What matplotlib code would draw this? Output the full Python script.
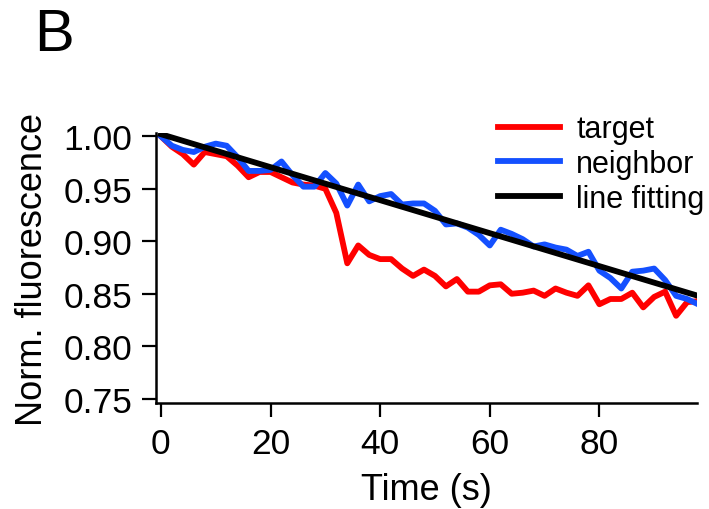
import matplotlib
matplotlib.use("Agg")
import matplotlib.pyplot as plt
import numpy as np

plt.rcParams["font.family"] = ["Liberation Sans", "DejaVu Sans"]

# time points (s), sampled every 2 s
time_s = np.arange(0, 100, 2)

target = [
    1.000, 0.990, 0.983, 0.973, 0.985, 0.983, 0.981, 0.972, 0.961, 0.966,
    0.966, 0.961, 0.956, 0.954, 0.953, 0.950, 0.927, 0.879, 0.896, 0.887,
    0.883, 0.883, 0.874, 0.867, 0.873, 0.867, 0.857, 0.864, 0.852, 0.852,
    0.858, 0.859, 0.850, 0.851, 0.853, 0.848, 0.855, 0.851, 0.848, 0.858,
    0.840, 0.845, 0.845, 0.851, 0.837, 0.847, 0.852, 0.829, 0.842, 0.843,
]

neighbor = [
    1.000, 0.991, 0.987, 0.985, 0.990, 0.993, 0.991, 0.980, 0.967, 0.967,
    0.968, 0.976, 0.963, 0.952, 0.952, 0.965, 0.955, 0.934, 0.954, 0.938,
    0.943, 0.945, 0.935, 0.936, 0.936, 0.929, 0.916, 0.917, 0.913, 0.906,
    0.896, 0.911, 0.907, 0.902, 0.895, 0.897, 0.894, 0.892, 0.886, 0.890,
    0.872, 0.865, 0.855, 0.871, 0.872, 0.874, 0.863, 0.848, 0.845, 0.840,
]

# straight line fit, end points
fit_x = [0, 98]
fit_y = [1.002, 0.848]

y_ticks = [0.75, 0.80, 0.85, 0.90, 0.95, 1.00]
x_ticks = [0, 20, 40, 60, 80]

fig = plt.figure(figsize=(7.09, 5.10), dpi=100)
ax = fig.add_axes([0.220, 0.208, 0.763, 0.529])

ax.plot(time_s, target, color="#ff0000", lw=4.2, label="target")
ax.plot(time_s, neighbor, color="#1450ff", lw=4.2, label="neighbor")
ax.plot(fit_x, fit_y, color="black", lw=4.2, label="line fitting")

ax.set_xlim(-0.9, 97.8)
ax.set_ylim(0.746, 1.003)
ax.set_xticks(x_ticks)
ax.set_yticks(y_ticks)
ax.set_yticklabels([f"{v:.2f}" for v in y_ticks])

for side in ["top", "right"]:
    ax.spines[side].set_visible(False)
for side in ["left", "bottom"]:
    ax.spines[side].set_linewidth(1.8)

ax.tick_params(direction="out", length=10, width=1.6, labelsize=25.5, pad=7)

ax.set_xlabel("Time (s)", fontsize=26, labelpad=9)
ax.set_ylabel("Norm. fluorescence", fontsize=26, labelpad=10)

ax.legend(
    loc="upper left",
    bbox_to_anchor=(0.703, 0.774),
    bbox_transform=fig.transFigure,
    frameon=False,
    fontsize=22,
    handlelength=2.0,
    handletextpad=0.55,
    labelspacing=0.16,
    borderpad=0,
    borderaxespad=0,
)

fig.text(0.048, 0.985, "B", fontsize=43, ha="left", va="top")

fig.savefig("out.png", dpi=100)
